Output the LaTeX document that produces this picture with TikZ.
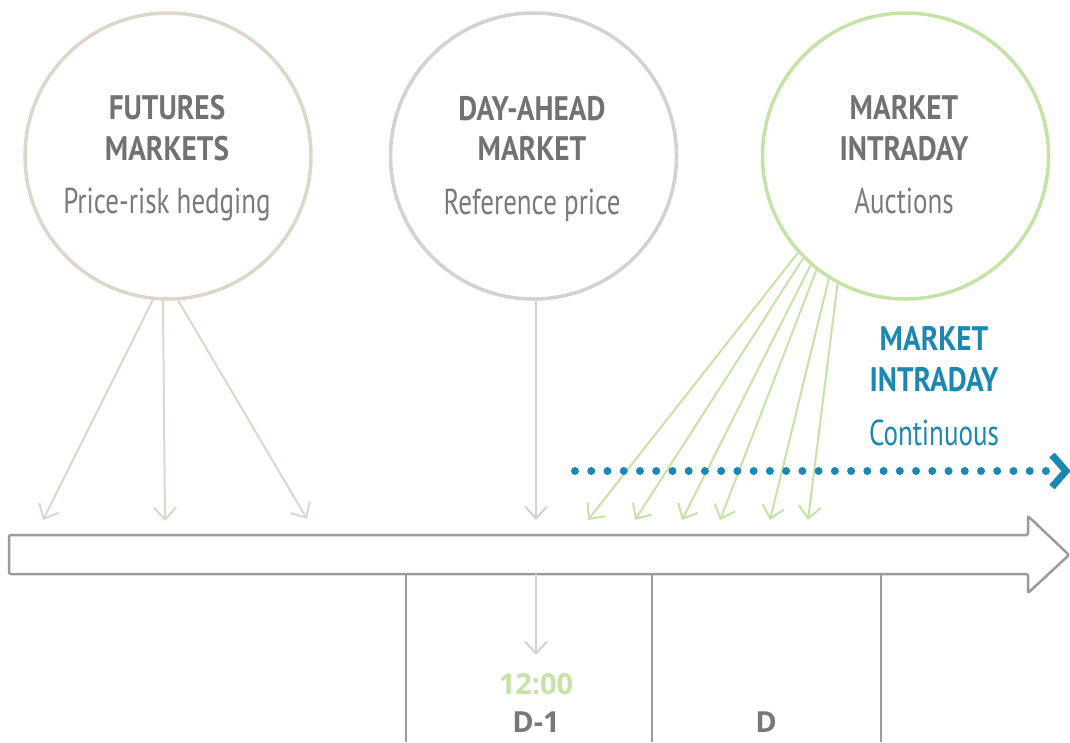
\documentclass[tikz,border=0pt]{standalone}
\usepackage{fontspec}
\setmainfont{PT Sans}
\newfontfamily\cond{PT Sans}[FakeStretch=0.75]
\newfontfamily\condb{PT Sans Bold}[FakeStretch=0.86]
\newfontfamily\lab{Open Sans}
\usetikzlibrary{arrows.meta}
\definecolor{txtgray}{HTML}{727272}
\definecolor{subgray}{HTML}{7A7A7A}
\definecolor{futc}{HTML}{DDD6CD}
\definecolor{dac}{HTML}{D2D2D2}
\definecolor{grn}{HTML}{C5E3A5}
\definecolor{blu}{HTML}{1A88B3}
\definecolor{axisc}{HTML}{9B9B9B}
\definecolor{dgray}{HTML}{77787B}
\tikzset{
  mcircle/.style={circle, draw, line width=3.5pt, minimum size=286pt, inner sep=0pt},
  ttl/.style={anchor=base, text=txtgray, font=\condb\fontsize{34}{40}\selectfont},
  sub/.style={anchor=base, text=subgray, font=\cond\fontsize{36}{42}\selectfont},
  bttl/.style={anchor=base, text=blu, font=\condb\fontsize{34}{40}\selectfont},
  bsub/.style={anchor=base, text=blu, font=\cond\fontsize{36}{42}\selectfont},
  arr/.style={line width=2pt, -{Straight Barb[length=12pt,width=22pt,line width=2pt]}},
  divline/.style={draw=axisc, line width=2pt},
  lbl/.style={anchor=base, font=\lab\bfseries\fontsize{29}{34}\selectfont},
}
\begin{document}
\begin{tikzpicture}[x=1pt,y=-1pt]
\useasboundingbox (0,0) rectangle (1070,742);
% circles
\node[mcircle, draw=futc] (fut) at (168,156) {};
\node[mcircle, draw=dac] (da) at (533.5,156) {};
\node[mcircle, draw=grn] (id) at (905.5,156) {};
% circle texts
\node[ttl] (f1) at (167,119) {FUTURES};
\node[ttl] (f2) at (167,160) {MARKETS};
\node[sub] (f3) at (167,213) {Price-risk hedging};
\node[ttl] (d1) at (532,120) {DAY-AHEAD};
\node[ttl] (d2) at (532,160) {MARKET};
\node[sub] (d3) at (532,214) {Reference price};
\node[ttl] (i1) at (904,119) {MARKET};
\node[ttl] (i2) at (904,160) {INTRADAY};
\node[sub] (i3) at (904,213) {Auctions};
% continuous label
\node[bttl] (c1) at (934,350) {MARKET};
\node[bttl] (c2) at (934,391) {INTRADAY};
\node[bsub] (c3) at (934,445) {Continuous};
% timeline arrow
\draw[draw=axisc, line width=2.5pt, rounded corners=2pt, fill=white]
  (9,535) -- (1028,535) -- (1028,516) -- (1069,555) -- (1028,593) -- (1028,574) -- (9,574) -- cycle;
% dividers
\coordinate (v1t) at (406,574); \coordinate (v1b) at (406,742);
\coordinate (v2t) at (652,574); \coordinate (v2b) at (652,742);
\coordinate (v3t) at (881,574); \coordinate (v3b) at (881,742);
\draw[divline] (v1t) -- (v1b);
\draw[divline] (v2t) -- (v2b);
\draw[divline] (v3t) -- (v3b);
% futures arrows
\coordinate (fa) at (43,520);
\coordinate (fb) at (165,521);
\coordinate (fc) at (307,519);
\draw[arr, draw=futc] (fut.-96) -- (fa);
\draw[arr, draw=futc] (fut.-92) -- (fb);
\draw[arr, draw=futc] (fut.-86.5) -- (fc);
% day-ahead arrows
\coordinate (da1) at (536,520);
\coordinate (da2t) at (536,574);
\coordinate (da2) at (536,655);
\draw[arr, draw=dac] (da1 |- da.south) -- (da1);
\draw[arr, draw=dac] (da2t) -- (da2);
% intraday arrows
\coordinate (g1) at (588,520);
\coordinate (g2) at (635,520);
\coordinate (g3) at (682,520);
\coordinate (g4) at (720,520);
\coordinate (g5) at (770,520);
\coordinate (g6) at (808,520);
\draw[arr, draw=grn] (id.-138.2) -- (g1);
\draw[arr, draw=grn] (id.-135.4) -- (g2);
\draw[arr, draw=grn] (id.-131.8) -- (g3);
\draw[arr, draw=grn] (id.-128) -- (g4);
\draw[arr, draw=grn] (id.-122) -- (g5);
\draw[arr, draw=grn] (id.-118) -- (g6);
% dotted continuous line
\coordinate (ds) at (575,471);
\coordinate (de) at (1046,471);
\draw[blu, line width=8pt, line cap=round, dash pattern=on 0pt off 16.24pt] (ds) -- (de);
\draw[blu, line width=7pt, miter limit=10] (1052,455) -- (1066,471) -- (1052,487);
% bottom labels
\node[lbl, text=grn] (t12) at (536,694) {12:00};
\node[lbl, text=dgray] (dm1) at (536,732) {D-1};
\node[lbl, text=dgray] (dd) at (766,732) {D};
\end{tikzpicture}
\end{document}
